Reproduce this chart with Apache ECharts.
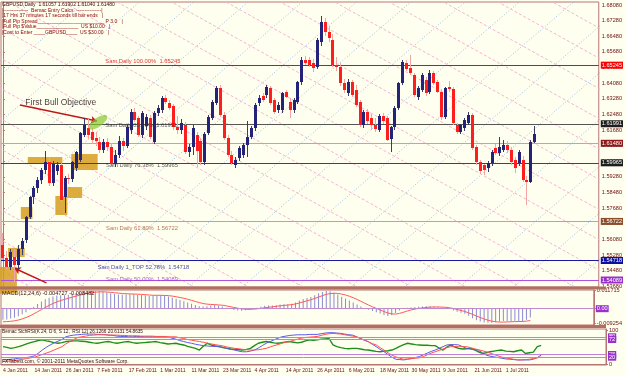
<!DOCTYPE html>
<html><head><meta charset="utf-8">
<script src="https://cdn.jsdelivr.net/npm/echarts@6/dist/echarts.min.js"></script>
<style>html,body{margin:0;padding:0;background:#FFFFF0}#c{width:625px;height:376px}</style>
</head><body><div id="c"></div>
<script>
// ---------- categories ----------
const monthDays = [
  ['Jan',[4,5,6,7,10,11,12,13,14,17,18,19,20,21,24,25,26,27,28,31]],
  ['Feb',[1,2,3,4,7,8,9,10,11,14,15,16,17,18,21,22,23,24,25,28]],
  ['Mar',[1,2,3,4,7,8,9,10,11,14,15,16,17,18,21,22,23,24,25,28,29,30,31]],
  ['Apr',[1,4,5,6,7,8,11,12,13,14,15,18,19,20,21,22,25,26,27,28,29]],
  ['May',[2,3,4,5,6,9,10,11,12,13,16,17,18,19,20,23,24,25,26,27,30,31]],
  ['Jun',[1,2,3,6,7,8,9,10,13,14,15,16,17,20,21,22,23,24,27,28,29,30]],
  ['Jul',[1,4,5,6,7,8,11,12,13,14]]
];
// ---------- price data ----------
const opens = [1.5580,1.5513,1.5467,1.5520,1.5475,1.5560,1.5605,1.5723,1.5825,1.5870,
1.5912,1.5963,1.6004,1.5897,1.5960,1.5990,1.5825,1.5920,1.5915,1.5975,
1.6014,1.6143,1.6178,1.6158,1.6127,1.6107,1.6066,1.6107,1.6081,1.5995,
1.6040,1.6110,1.6085,1.6168,1.6260,1.6229,1.6140,1.6190,1.6229,1.6107,
1.6255,1.6270,1.6332,1.6306,1.6290,1.6183,1.6168,1.6194,1.6055,1.6081,
1.6143,1.6110,1.6005,1.6153,1.6229,1.6306,1.6383,1.6245,1.6127,1.6040,
1.5989,1.6025,1.6040,1.6091,1.6132,1.6178,1.6306,1.6342,1.6347,1.6383,
1.6322,1.6270,1.6270,1.6363,1.6311,1.6270,1.6311,1.6414,1.6526,1.6526,
1.6511,1.6491,1.6620,1.6720,1.6670,1.6629,1.6501,1.6491,1.6409,1.6357,
1.6414,1.6373,1.6311,1.6194,1.6260,1.6230,1.6194,1.6168,1.6240,1.6229,
1.6122,1.6183,1.6281,1.6409,1.6511,1.6485,1.6450,1.6337,1.6373,1.6424,
1.6363,1.6460,1.6414,1.6363,1.6235,1.6390,1.6378,1.6194,1.6158,1.6178,
1.6204,1.6245,1.6081,1.6004,1.5989,1.5973,1.5999,1.6076,1.6050,1.6066,
1.6091,1.6066,1.6014,1.5999,1.6014,1.5912,1.5902,1.6106];
const highs = [1.5640,1.5550,1.5560,1.5560,1.5580,1.5615,1.5730,1.5830,1.5880,1.5925,
1.5975,1.6060,1.6030,1.6010,1.6005,1.6000,1.5935,1.5945,1.6010,1.6060,
1.6160,1.6230,1.6225,1.6180,1.6160,1.6130,1.6120,1.6125,1.6100,1.6065,
1.6135,1.6125,1.6200,1.6275,1.6280,1.6240,1.6265,1.6250,1.6245,1.6265,
1.6295,1.6340,1.6345,1.6320,1.6300,1.6240,1.6225,1.6210,1.6095,1.6195,
1.6160,1.6125,1.6160,1.6245,1.6320,1.6395,1.6400,1.6260,1.6140,1.6060,
1.6030,1.6085,1.6100,1.6215,1.6190,1.6305,1.6345,1.6360,1.6400,1.6395,
1.6330,1.6310,1.6365,1.6375,1.6330,1.6330,1.6420,1.6540,1.6545,1.6540,
1.6530,1.6640,1.6752,1.6740,1.6700,1.6660,1.6540,1.6510,1.6430,1.6430,
1.6425,1.6400,1.6320,1.6270,1.6275,1.6250,1.6230,1.6250,1.6255,1.6240,
1.6190,1.6290,1.6415,1.6526,1.6525,1.6552,1.6460,1.6395,1.6460,1.6440,
1.6475,1.6470,1.6425,1.6380,1.6390,1.6420,1.6390,1.6205,1.6200,1.6230,
1.6260,1.6255,1.6090,1.6015,1.5995,1.6010,1.6065,1.6095,1.6132,1.6115,
1.6110,1.6080,1.6030,1.6065,1.6035,1.5930,1.6115,1.6190];
const lows = [1.5500,1.5455,1.5450,1.5390,1.5450,1.5530,1.5590,1.5710,1.5790,1.5845,
1.5890,1.5945,1.5880,1.5880,1.5940,1.5800,1.5743,1.5890,1.5900,1.5960,
1.6005,1.6130,1.6120,1.6095,1.6085,1.6050,1.6050,1.6060,1.5985,1.5979,
1.6025,1.6060,1.6075,1.6150,1.6210,1.6130,1.6125,1.6170,1.6120,1.6095,
1.6240,1.6255,1.6300,1.6270,1.6170,1.6150,1.6150,1.6045,1.6030,1.6040,
1.5980,1.5990,1.5990,1.6140,1.6220,1.6295,1.6235,1.6115,1.6030,1.5990,
1.5975,1.6010,1.6025,1.6030,1.6120,1.6165,1.6290,1.6310,1.6330,1.6295,
1.6250,1.6255,1.6255,1.6330,1.6230,1.6255,1.6300,1.6400,1.6500,1.6490,
1.6465,1.6480,1.6600,1.6650,1.6620,1.6490,1.6470,1.6395,1.6355,1.6340,
1.6335,1.6285,1.6185,1.6180,1.6200,1.6170,1.6160,1.6160,1.6200,1.6110,
1.6055,1.6170,1.6270,1.6400,1.6470,1.6450,1.6335,1.6320,1.6365,1.6340,
1.6350,1.6400,1.6355,1.6220,1.6225,1.6365,1.6195,1.6150,1.6145,1.6165,
1.6195,1.6065,1.5990,1.5945,1.5940,1.5955,1.5985,1.6040,1.6035,1.6055,
1.6050,1.5990,1.5950,1.5985,1.5900,1.5784,1.5895,1.6104];
const closes = [1.5513,1.5467,1.5544,1.5475,1.5560,1.5600,1.5723,1.5825,1.5870,1.5912,
1.5963,1.6004,1.5897,1.5995,1.5990,1.5810,1.5920,1.5915,1.6004,1.6055,
1.6153,1.6194,1.6143,1.6117,1.6112,1.6066,1.6107,1.6081,1.5995,1.6040,
1.6110,1.6085,1.6183,1.6260,1.6219,1.6140,1.6255,1.6235,1.6132,1.6255,
1.6281,1.6332,1.6311,1.6281,1.6183,1.6168,1.6204,1.6055,1.6081,1.6178,
1.6060,1.6005,1.6150,1.6235,1.6311,1.6383,1.6245,1.6127,1.6040,1.5999,
1.6014,1.6076,1.6091,1.6132,1.6178,1.6296,1.6332,1.6322,1.6388,1.6306,
1.6260,1.6296,1.6357,1.6337,1.6270,1.6322,1.6414,1.6526,1.6511,1.6501,
1.6485,1.6629,1.6720,1.6670,1.6640,1.6501,1.6491,1.6409,1.6373,1.6414,
1.6347,1.6296,1.6194,1.6260,1.6215,1.6194,1.6175,1.6240,1.6215,1.6117,
1.6183,1.6281,1.6409,1.6516,1.6480,1.6460,1.6347,1.6383,1.6450,1.6357,
1.6460,1.6409,1.6363,1.6235,1.6383,1.6378,1.6204,1.6158,1.6194,1.6219,
1.6245,1.6076,1.6004,1.5958,1.5963,1.5999,1.6055,1.6050,1.6081,1.6091,
1.6066,1.6004,1.5973,1.6055,1.5912,1.5902,1.6107,1.6148];
// ---------- MACD ----------
const macdHist = [-0.0070,-0.0068,-0.0063,-0.0058,-0.0048,-0.0036,-0.0022,-0.0006,0.0012,0.0030,
0.0045,0.0060,0.0070,0.0078,0.0083,0.0085,0.0086,0.0089,0.0095,0.0100,
0.0105,0.0110,0.0113,0.0114,0.0113,0.0110,0.0108,0.0104,0.0098,0.0093,
0.0090,0.0089,0.0090,0.0092,0.0091,0.0088,0.0087,0.0085,0.0080,0.0082,
0.0084,0.0085,0.0083,0.0078,0.0070,0.0063,0.0056,0.0048,0.0039,0.0032,
0.0024,0.0016,0.0014,0.0016,0.0020,0.0023,0.0020,0.0014,0.0006,-0.0002,
-0.0008,-0.0012,-0.0013,-0.0010,-0.0006,0.0000,0.0006,0.0012,0.0018,0.0020,
0.0020,0.0022,0.0026,0.0028,0.0028,0.0032,0.0040,0.0052,0.0062,0.0068,
0.0074,0.0085,0.0098,0.0106,0.0112,0.0110,0.0102,0.0090,0.0076,0.0064,
0.0052,0.0040,0.0026,0.0014,0.0004,-0.0006,-0.0015,-0.0022,-0.0030,-0.0040,
-0.0046,-0.0042,-0.0028,-0.0012,0.0000,0.0006,0.0008,0.0010,0.0013,0.0014,
0.0016,0.0015,0.0013,0.0009,0.0008,0.0007,-0.0002,-0.0012,-0.0020,-0.0026,
-0.0032,-0.0045,-0.0060,-0.0073,-0.0082,-0.0088,-0.0090,-0.0089,-0.0086,-0.0082,
-0.0078,-0.0078,-0.0080,-0.0077,-0.0079,-0.0082,-0.0070,-0.0056];
const macdSignal = [-0.0083,-0.0082,-0.0080,-0.0077,-0.0072,-0.0065,-0.0056,-0.0046,-0.0033,-0.0019,
-0.0006,0.0008,0.0021,0.0033,0.0043,0.0052,0.0059,0.0066,0.0073,0.0080,
0.0086,0.0092,0.0098,0.0102,0.0105,0.0107,0.0107,0.0106,0.0104,0.0101,
0.0099,0.0096,0.0095,0.0094,0.0093,0.0092,0.0091,0.0089,0.0087,0.0085,
0.0085,0.0085,0.0084,0.0083,0.0080,0.0076,0.0071,0.0066,0.0060,0.0053,
0.0046,0.0039,0.0033,0.0029,0.0027,0.0026,0.0024,0.0022,0.0018,0.0013,
0.0008,0.0003,-0.0001,-0.0003,-0.0004,-0.0003,-0.0001,0.0002,0.0006,0.0009,
0.0012,0.0015,0.0018,0.0021,0.0023,0.0026,0.0030,0.0036,0.0043,0.0050,
0.0057,0.0065,0.0074,0.0083,0.0091,0.0096,0.0098,0.0097,0.0093,0.0087,
0.0079,0.0070,0.0059,0.0047,0.0035,0.0023,0.0012,0.0002,-0.0008,-0.0018,
-0.0027,-0.0033,-0.0034,-0.0030,-0.0023,-0.0015,-0.0008,-0.0003,0.0002,0.0005,
0.0008,0.0010,0.0011,0.0011,0.0010,0.0009,0.0006,0.0001,-0.0005,-0.0011,
-0.0018,-0.0026,-0.0036,-0.0046,-0.0056,-0.0065,-0.0073,-0.0079,-0.0083,-0.0085,
-0.0085,-0.0084,-0.0083,-0.0082,-0.0081,-0.0081,-0.0079,-0.0075];
// ---------- StochRSI ----------
const stochK = [12,13,14,15,17,18,19,21,24,32,41,49,56,62,67,72,80,83,85,86,
87,88,88,88,87,87,86,85,84,82,81,81,80,80,81,81,80,80,80,80,
80,79,79,76,73,69,66,63,61,58,56,54,53,52,52,51,49,46,43,41,
38,36,36,38,41,47,54,61,66,71,76,80,82,84,85,86,86,86,87,87,
87,89,91,92,92,91,90,88,86,85,80,75,70,66,58,51,43,36,28,20,
14,13,12,14,16,19,22,27,32,37,41,46,51,56,57,57,56,51,46,44,
42,41,33,26,23,21,19,17,15,14,13,12,12,12,12,14,19,26.13];
const stochD = [7,8,9,10,12,14,16,18,20,24,28,32,36,41,46,51,59,66,72,78,
80,82,84,85,86,86,86,85,85,85,84,84,83,83,83,82,82,82,82,81,
81,81,80,80,80,77,75,72,70,68,66,64,61,59,57,55,53,50,48,46,
45,43,42,41,41,42,44,46,50,54,57,61,64,66,70,73,76,78,79,80,
81,84,87,89,90,89,88,86,84,82,80,75,70,65,60,56,48,41,33,26,
21,17,14,15,16,17,18,22,27,32,36,40,44,48,51,51,51,51,51,48,
45,42,39,36,32,28,24,20,18,16,14,12,12,13,14,16,18,20.61];
const stochRsi = [51,49,46,48,51,55,59,63,66,69,71,68,66,63,61,63,66,67,68,68,
67,66,64,62,61,63,65,66,63,61,63,65,66,63,61,62,63,64,65,66,
63,61,59,60,61,58,56,52,49,46,41,52,61,56,53,51,48,46,44,43,
42,41,43,46,54,61,64,66,64,62,61,63,65,66,64,62,64,68,71,70,
71,73,74,75,56,51,48,46,45,46,46,44,42,41,39,37,36,38,39,41,
46,52,57,61,59,57,56,55,55,54,54,47,41,50,56,50,46,44,45,46,
42,36,31,33,36,38,40,41,38,37,36,39,41,31,33,35,51,54.86];
// ---------- axis labels ----------
const priceTicks = [1.68080,1.67280,1.66480,1.65680,1.64880,1.64080,1.63280,1.62480,1.61680,1.60880,1.60080,1.59280,1.58480,1.57680,1.56880,1.56080,1.55280,1.54480,1.53680];
const macdTicks = [0.011715, 0, -0.009254];
const macdTickText = ['0.011715','0.00','-0.009254'];
const stochTicks = [100, 0];
const stochLevels = [80, 72, 28, 20];
// ---------- level lines ----------
const levelValues = [1.65245, 1.61991, 1.61480, 1.59965, 1.56722, 1.54718, 1.54089];
const levelTexts = ['Sam Daily 100.00%  1.65245','Sam Daily 85.41%  1.61991','','Sam Daily 76.38%  1.59965','Sam Daily 61.80%  1.56722','Sam Daily 1_TOP 52.78%  1.54718','Sam Daily 50.00%  1.54089'];
// ---------- annotation zones (bar index / price) ----------
const zoneX0 = [-0.8, 1.3, 4.6, 6.4, 13.5, 16.6, 17.6];
const zoneX1 = [3.6, 5.6, 7.6, 15.3, 16.6, 20.4, 24.4];
const zoneTop = [1.5467, 1.5564, 1.5774, 1.6030, 1.5830, 1.5876, 1.6045];
const zoneBottom = [1.5330, 1.5518, 1.5712, 1.5994, 1.5733, 1.5820, 1.5963];

// ================= build =================
const dates = [];
monthDays.forEach(([m, ds]) => ds.forEach(d => dates.push(d + ' ' + m + ' 2011')));
const NB = dates.length;         // 138 bars
const N = 154;                    // chart slots incl. right shift
const cats = dates.concat(Array(N - NB).fill(''));
const FONT = '"Liberation Sans", Arial, sans-serif';
const FRAME = '#B87474';
const TXT = '#6A1010';
const BULL = '#23237A', BULL_W = '#3C3C66', BEAR = '#FF1E1E', BEAR_W = '#F4A4A4';
const PMAX = 1.68234, PMIN = 1.53642;

const levelStyle = [
  {line:'#FF0000', text:'#E00000', bg:'#FF0000'},
  {line:'#555555', text:'#333333', bg:'#1E1E1E'},
  {line:'#F09090', text:'#000', bg:'#8E1B1B'},
  {line:'#444444', text:'#333333', bg:'#1E1E1E'},
  {line:'#C9A088', text:'#A0522D', bg:'#8B4E2B'},
  {line:'#1818A0', text:'#1818A0', bg:'#1010A0'},
  {line:'#B050E0', text:'#9932CC', bg:'#9932CC'}
];
const levelTextX = [26.5, 26.5, 0, 26.7, 26.7, 24.5, 26.7];

function candle(params, api) {
  const i = api.value(0);
  const o = api.value(1), c = api.value(2), l = api.value(3), h = api.value(4);
  const pH = api.coord([i, h]), pL = api.coord([i, l]);
  const pO = api.coord([i, o]), pC = api.coord([i, c]);
  const x = Math.floor(pH[0]);
  const up = c >= o;
  const y0 = Math.round(Math.min(pO[1], pC[1])), y1 = Math.round(Math.max(pO[1], pC[1]));
  return {type:'group', children:[
    {type:'line', shape:{x1:x+0.5, y1:Math.round(pH[1]), x2:x+0.5, y2:Math.round(pL[1])},
     style:{stroke: up ? BULL_W : BEAR_W, lineWidth:1}},
    {type:'rect', shape:{x:x-1, y:y0, width:3, height:Math.max(1, y1-y0)},
     style:{fill: up ? BULL : BEAR}}
  ]};
}
function zone(params, api) {
  const a = api.coord([api.value(0), api.value(2)]);
  const b = api.coord([api.value(1), api.value(3)]);
  return {type:'rect', shape:{x:a[0], y:a[1], width:b[0]-a[0], height:b[1]-a[1]},
    style:{fill:'rgba(214,158,30,0.85)'}};
}

const series = [];
// Gann lattice (decorative grid of two line families)
const gann = {blueSlope:0.00171, blueStep:0.0239, blueFirst:1.262, pinkSlope:-0.001106, pinkStep:0.0155, pinkFirst:1.530};
for (let k = 0; k < 20; k++) {
  const p0 = gann.blueFirst + k * gann.blueStep;
  series.push({type:'line', xAxisIndex:1, yAxisIndex:0, z:1, silent:true, symbol:'none',
    data:[[-1, p0], [N, p0 + (N+1)*gann.blueSlope]],
    lineStyle:{color:'#9DBBE2', width:1, type:[1,2]}});
}
for (let k = 0; k < 24; k++) {
  const p0 = gann.pinkFirst + k * gann.pinkStep;
  series.push({type:'line', xAxisIndex:1, yAxisIndex:0, z:1, silent:true, symbol:'none',
    data:[[-1, p0], [N, p0 + (N+1)*gann.pinkSlope]],
    lineStyle:{color:'#F2B4D2', width:1, type:[3,2]}});
}
// zones
series.push({type:'custom', xAxisIndex:1, yAxisIndex:0, z:2, silent:true, renderItem:zone,
  data: zoneX0.map((x, i) => [x, zoneX1[i], zoneTop[i], zoneBottom[i]])});
// levels + trendlines (markLine on a carrier series)
series.push({type:'line', xAxisIndex:1, yAxisIndex:0, z:3, symbol:'none', data:[],
  markLine:{silent:true, symbol:['none','none'], animation:false,
    data: levelValues.map((v, i) => ({yAxis:v,
      lineStyle:{color:levelStyle[i].line, width:1, type:'solid'},
      label:{show:true, position:'end', distance:2, formatter:v.toFixed(5), color:'#fff',
        backgroundColor:levelStyle[i].bg, fontSize:5.6, fontFamily:FONT, padding:[1,1,0,1]}}))
    .concat([
      [{coord:[-0.8, 1.6485], lineStyle:{color:'#E8A020', width:1.2, type:'solid'}}, {coord:[29.2, 1.6834]}],
      [{coord:[-0.8, 1.5715], lineStyle:{color:'#000', width:2, type:'solid'}}, {coord:[19.6, 1.5460]}],
      [{coord:[4.4, 1.6296], symbol:'none', lineStyle:{color:'#C01818', width:1.5, type:'solid'}}, {coord:[24.2, 1.6214], symbol:'arrow', symbolSize:6}],
      [{coord:[11.2, 1.5385], symbol:'none', lineStyle:{color:'#C01818', width:1.5, type:'solid'}}, {coord:[3.0, 1.5460], symbol:'arrow', symbolSize:6}]
    ])
  }
});
// candles
series.push({type:'custom', xAxisIndex:0, yAxisIndex:0, z:5, renderItem:candle,
  data: opens.map((o, i) => [i, o, closes[i], lows[i], highs[i]]),
  encode:{x:0, y:[1,2,3,4]}});
// ellipse + texts
series.push({type:'scatter', xAxisIndex:1, yAxisIndex:0, z:6, silent:true,
  data:[[24.5, 1.6208]], symbol:'circle', symbolSize:[22,9], symbolRotate:35,
  itemStyle:{color:'rgba(130,200,40,0.85)'}});
series.push({type:'scatter', xAxisIndex:1, yAxisIndex:0, z:7, silent:true, symbolSize:1,
  itemStyle:{color:'rgba(0,0,0,0)'},
  data: levelValues.map((v, i) => ({value:[levelTextX[i], v],
    label:{show: levelTexts[i] !== '', formatter: levelTexts[i], color: levelStyle[i].text,
      position:[0,-1], align:'left', verticalAlign:'top', fontSize:5.8, fontFamily:FONT}}))
  .concat([{value:[5.9, 1.6281], label:{show:true, formatter:'First Bull Objective', color:'#1a0a0a',
      position:[0,0], align:'left', verticalAlign:'bottom', fontSize:8.5, fontFamily:FONT}}])
});
// MACD
series.push({type:'bar', xAxisIndex:2, yAxisIndex:1, data:macdHist, barWidth:1,
  itemStyle:{color:'#8A8AD6'}, silent:true,
  markLine:{silent:true, symbol:['none','none'], data:[{yAxis:0,
    lineStyle:{color:'#C08AD0', width:1, type:'solid'},
    label:{show:true, position:'end', distance:2, formatter:'0.00', color:'#fff', backgroundColor:'#9932CC', fontSize:5.6, fontFamily:FONT, padding:[1,1,0,1]}}]}});
series.push({type:'line', xAxisIndex:2, yAxisIndex:1, data:macdSignal, symbol:'none',
  lineStyle:{color:'#FF5A5A', width:1}, silent:true});
// StochRSI
series.push({type:'line', xAxisIndex:3, yAxisIndex:2, data:stochRsi, symbol:'none',
  lineStyle:{color:'#1E8E1E', width:1.4}, silent:true,
  markLine:{silent:true, symbol:['none','none'], data: stochLevels.map(v => ({yAxis:v,
    lineStyle:{color:'#C080D8', width:1, type:'solid'},
    label:{show:true, position:'end', distance:2, formatter:String(v), color:'#fff', backgroundColor:'#9932CC', fontSize:5.6, fontFamily:FONT, padding:[1,1,0,1]}}))}});
series.push({type:'line', xAxisIndex:3, yAxisIndex:2, data:stochK, symbol:'none',
  lineStyle:{color:'#5A5AE6', width:1}, silent:true});
series.push({type:'line', xAxisIndex:3, yAxisIndex:2, data:stochD, symbol:'none',
  lineStyle:{color:'#FF5050', width:1}, silent:true});

const gridBase = {left:1, right:19, show:true, borderColor:FRAME, borderWidth:1, backgroundColor:'#FFFFF0'};
const hiddenCat = (g) => ({gridIndex:g, type:'category', data:cats, show:false, boundaryGap:true});
const yLab = {fontSize:5.6, color:TXT, fontFamily:FONT, margin:3};

const option = {
  animation:false,
  backgroundColor:'#FFFFF0',
  grid:[
    Object.assign({top:2, height:285}, gridBase),
    Object.assign({top:290, height:35}, gridBase),
    Object.assign({top:329, height:36}, gridBase)
  ],
  xAxis:[
    hiddenCat(0),
    {gridIndex:0, type:'value', min:-0.5, max:N-0.5, show:false},
    hiddenCat(1),
    {gridIndex:2, type:'category', data:cats, boundaryGap:true,
      axisLine:{show:true, lineStyle:{color:FRAME}}, axisTick:{show:false},
      axisLabel:{interval:(idx) => idx % 8 === 0 && idx < NB, align:'left', margin:3,
        fontSize:5.1, color:TXT, fontFamily:FONT, showMinLabel:true, showMaxLabel:false}}
  ],
  yAxis:[
    {gridIndex:0, type:'value', position:'right', min:PMIN, max:PMAX, scale:true,
      axisLine:{show:true, lineStyle:{color:FRAME}}, splitLine:{show:false},
      axisTick:{show:true, length:2, customValues:priceTicks, lineStyle:{color:FRAME}},
      axisLabel:Object.assign({customValues:priceTicks, formatter:(v) => v.toFixed(5)}, yLab)},
    {gridIndex:1, type:'value', position:'right', min:-0.01035, max:0.01187,
      axisLine:{show:true, lineStyle:{color:FRAME}}, splitLine:{show:false},
      axisTick:{show:true, length:2, customValues:macdTicks, lineStyle:{color:FRAME}},
      axisLabel:Object.assign({customValues:macdTicks, formatter:(v) => macdTickText[macdTicks.indexOf(v)] ?? String(v)}, yLab)},
    {gridIndex:2, type:'value', position:'right', min:-2.9, max:102.9,
      axisLine:{show:true, lineStyle:{color:FRAME}}, splitLine:{show:false},
      axisTick:{show:true, length:2, customValues:stochTicks, lineStyle:{color:FRAME}},
      axisLabel:Object.assign({customValues:stochTicks, formatter:(v) => String(v)}, yLab)}
  ],
  series: series,
  graphic:[
    {type:'rect', shape:{x:0, y:286.5, width:606, height:3}, style:{fill:'#B07060'}, z:50, silent:true},
    {type:'rect', shape:{x:0, y:325, width:606, height:3}, style:{fill:'#B07060'}, z:50, silent:true},
    {type:'text', left:2, top:2, z:60, style:{text:'GBPUSD,Daily  1.61057 1.61902 1.61040 1.61480', fill:'#3A0A0A', font:'5px ' + FONT}},
    {type:'text', left:2, top:8, z:60, style:{text:'|---------------  Bemac Entry Calcs  ---------------|', fill:'#8B0000', font:'5px ' + FONT}},
    {type:'text', left:2, top:13.5, z:60, style:{text:'|17 Hrs 37 minutes 17 seconds till bar ends   |', fill:'#8B0000', font:'5px ' + FONT}},
    {type:'text', left:2, top:19, z:60, style:{text:'|Full Pip Spread________________________ P 3.0   |', fill:'#8B0000', font:'5px ' + FONT}},
    {type:'text', left:2, top:24.5, z:60, style:{text:'|Full Pip $Value_______________  US $10.00   |', fill:'#8B0000', font:'5px ' + FONT}},
    {type:'text', left:2, top:30, z:60, style:{text:'|Cost to Enter ____GBPUSD____  US $30.00   |', fill:'#8B0000', font:'5px ' + FONT}},
    {type:'text', left:2, top:290, z:60, style:{text:'MACD(12,24,6) -0.004727 -0.008482', fill:'#3A0A0A', font:'5.6px ' + FONT}},
    {type:'text', left:2, top:329, z:60, style:{text:'Bemac StchRSI(K 24, D 6, S 12,  RSI 12) 26.1266 20.6131 54.8635', fill:'#3A0A0A', font:'4.7px ' + FONT}},
    {type:'text', left:2, top:359, z:60, style:{text:'FXTabest.com, \u00A9 2001-2011 MetaQuotes Software Corp.', fill:'#3A0A0A', font:'5px ' + FONT}}
  ]
};
const chart = echarts.init(document.getElementById('c'), null, {renderer:'canvas'});
chart.setOption(option);
</script></body></html>
